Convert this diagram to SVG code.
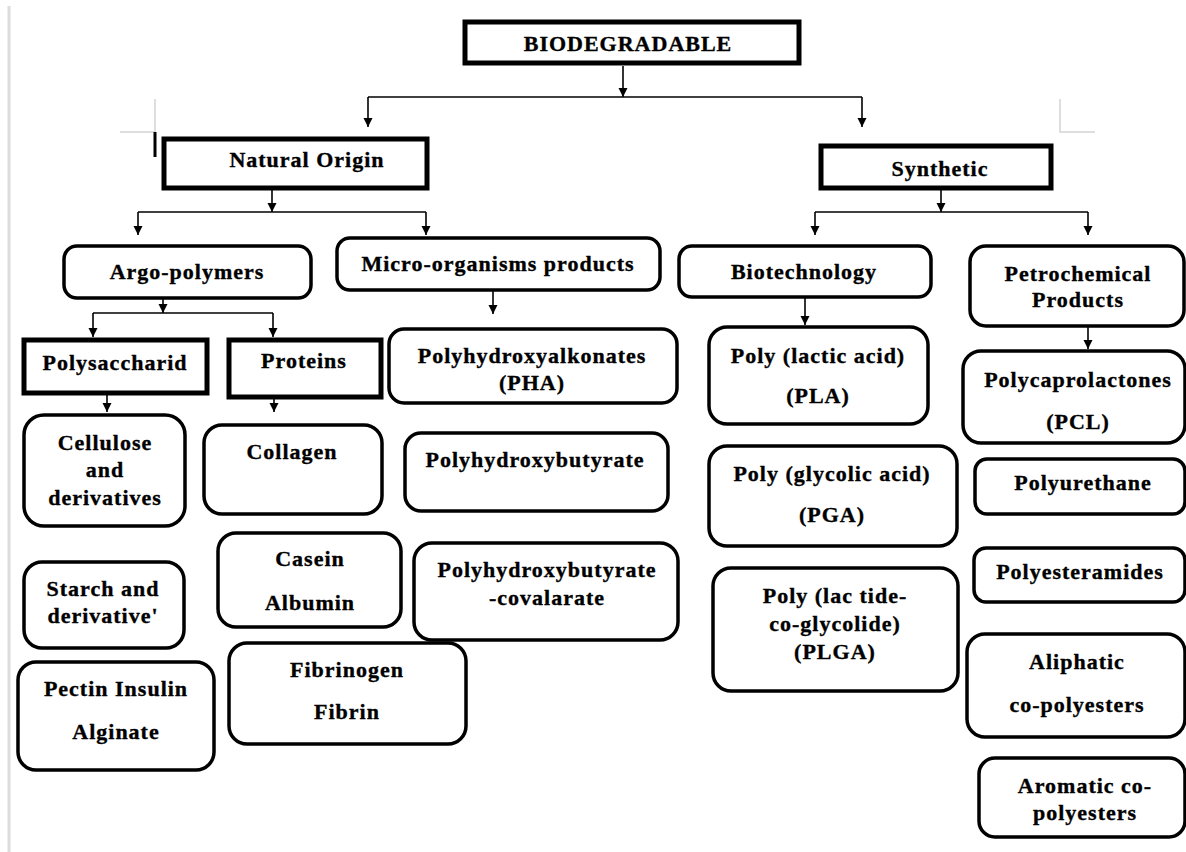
<svg xmlns="http://www.w3.org/2000/svg" width="1186" height="852" viewBox="0 0 1186 852">
<defs>
<marker id="ah" viewBox="0 0 10 10" markerUnits="userSpaceOnUse" markerWidth="9" markerHeight="11" refX="10" refY="5" orient="auto">
<path d="M0,0 L10,5 L0,10 z" fill="#000"/>
</marker>
<style>
.sq{fill:#fff;stroke:#000;stroke-width:5}
.rd{fill:#fff;stroke:#000;stroke-width:3.5}
.t{font-family:"Liberation Serif","Times New Roman",serif;font-weight:bold;font-size:22px;letter-spacing:1px;text-anchor:middle;fill:#000;stroke:#000;stroke-width:0.35px}
.c{stroke:#000;stroke-width:1.6;fill:none}
.a{stroke:#000;stroke-width:1.6;fill:none;marker-end:url(#ah)}
.g{stroke:#d4d4d4;stroke-width:1.5;fill:none}
</style>
</defs>
<rect width="1186" height="852" fill="#fff"/>
<line x1="9" y1="6" x2="9" y2="852" stroke="#dcdcdc" stroke-width="3"/>
<path class="g" d="M155,99 V132 H120"/>
<path class="g" d="M1060,99 V132 H1095"/>
<line x1="155" y1="132" x2="155" y2="157" stroke="#000" stroke-width="3"/>

<g id="connectors">
<path class="a" d="M623,66 V97"/>
<path class="c" d="M368,97 H862"/>
<path class="a" d="M368,97 V127"/>
<path class="a" d="M862,97 V127"/>
<path class="a" d="M272,189 V212"/>
<path class="c" d="M138,212 H426"/>
<path class="a" d="M138,212 V235"/>
<path class="a" d="M426,212 V235"/>
<path class="a" d="M941,189 V212"/>
<path class="c" d="M815,212 H1088"/>
<path class="a" d="M815,212 V235"/>
<path class="a" d="M1088,212 V235"/>
<path class="a" d="M163,298 V313"/>
<path class="c" d="M93,313 H273"/>
<path class="a" d="M93,313 V337"/>
<path class="a" d="M273,313 V337"/>
<path class="a" d="M493,291 V314"/>
<path class="a" d="M805,298 V325"/>
<path class="a" d="M1088,327 V349"/>
<path class="a" d="M107,393 V412"/>
<path class="a" d="M274,392 V412"/>
</g>

<g id="biodegradable"><rect class="sq" x="465" y="22" width="334" height="41"/><text class="t" x="628" y="51">BIODEGRADABLE</text></g>
<g id="natural-origin"><rect class="sq" x="164" y="139" width="263" height="49"/><text class="t" x="307" y="167">Natural Origin</text></g>
<g id="synthetic"><rect class="sq" x="821" y="146" width="230" height="42"/><text class="t" x="940" y="176">Synthetic</text></g>

<g id="argo-polymers"><rect class="rd" x="64" y="246" width="247" height="52" rx="13"/><text class="t" x="187" y="279">Argo-polymers</text></g>
<g id="micro-organisms"><rect class="rd" x="337" y="238" width="323" height="52" rx="13"/><text class="t" x="498" y="271">Micro-organisms products</text></g>
<g id="biotechnology"><rect class="rd" x="679" y="246" width="252" height="51" rx="13"/><text class="t" x="804" y="279">Biotechnology</text></g>
<g id="petrochemical"><rect class="rd" x="970" y="246" width="214" height="80" rx="16"/><text class="t" x="1078" y="281">Petrochemical</text><text class="t" x="1078" y="307">Products</text></g>

<g id="polysaccharid"><rect class="sq" x="24" y="340" width="183" height="53"/><text class="t" x="115" y="370">Polysaccharid</text></g>
<g id="proteins"><rect class="sq" x="229" y="340" width="152" height="57"/><text class="t" x="304" y="368">Proteins</text></g>
<g id="pha"><rect class="rd" x="389" y="329" width="288" height="74" rx="15"/><text class="t" x="532" y="363">Polyhydroxyalkonates</text><text class="t" x="532" y="390">(PHA)</text></g>
<g id="pla"><rect class="rd" x="709" y="327" width="219" height="97" rx="18"/><text class="t" x="818" y="363">Poly (lactic acid)</text><text class="t" x="818" y="403">(PLA)</text></g>
<g id="pcl"><rect class="rd" x="963" y="351" width="222" height="92" rx="18"/><text class="t" x="1078" y="387">Polycaprolactones</text><text class="t" x="1078" y="429">(PCL)</text></g>

<g id="cellulose"><rect class="rd" x="24" y="415" width="161" height="111" rx="20"/><text class="t" x="105" y="450">Cellulose</text><text class="t" x="105" y="477">and</text><text class="t" x="105" y="505">derivatives</text></g>
<g id="collagen"><rect class="rd" x="204" y="425" width="178" height="89" rx="18"/><text class="t" x="292" y="459">Collagen</text></g>
<g id="phb"><rect class="rd" x="405" y="433" width="263" height="78" rx="16"/><text class="t" x="535" y="467">Polyhydroxybutyrate</text></g>
<g id="pga"><rect class="rd" x="709" y="446" width="248" height="100" rx="18"/><text class="t" x="832" y="481">Poly (glycolic acid)</text><text class="t" x="832" y="522">(PGA)</text></g>
<g id="polyurethane"><rect class="rd" x="975" y="459" width="210" height="55" rx="12"/><text class="t" x="1083" y="490">Polyurethane</text></g>

<g id="starch"><rect class="rd" x="24" y="562" width="160" height="86" rx="18"/><text class="t" x="103" y="596">Starch and</text><text class="t" x="103" y="623">derivative'</text></g>
<g id="casein"><rect class="rd" x="218" y="533" width="183" height="94" rx="18"/><text class="t" x="310" y="566">Casein</text><text class="t" x="310" y="610">Albumin</text></g>
<g id="phbv"><rect class="rd" x="414" y="543" width="264" height="97" rx="18"/><text class="t" x="547" y="577">Polyhydroxybutyrate</text><text class="t" x="547" y="605">-covalarate</text></g>
<g id="plga"><rect class="rd" x="713" y="568" width="245" height="123" rx="18"/><text class="t" x="835" y="603">Poly (lac tide-</text><text class="t" x="835" y="631">co-glycolide)</text><text class="t" x="835" y="659">(PLGA)</text></g>
<g id="polyesteramides"><rect class="rd" x="974" y="548" width="211" height="54" rx="12"/><text class="t" x="1080" y="579">Polyesteramides</text></g>

<g id="pectin"><rect class="rd" x="18" y="662" width="196" height="108" rx="18"/><text class="t" x="116" y="696">Pectin Insulin</text><text class="t" x="116" y="739">Alginate</text></g>
<g id="fibrinogen"><rect class="rd" x="229" y="643" width="237" height="101" rx="18"/><text class="t" x="347" y="677">Fibrinogen</text><text class="t" x="347" y="719">Fibrin</text></g>
<g id="aliphatic"><rect class="rd" x="967" y="634" width="218" height="103" rx="18"/><text class="t" x="1077" y="669">Aliphatic</text><text class="t" x="1077" y="712">co-polyesters</text></g>
<g id="aromatic"><rect class="rd" x="979" y="758" width="206" height="79" rx="16"/><text class="t" x="1085" y="793">Aromatic co-</text><text class="t" x="1085" y="820">polyesters</text></g>
</svg>
